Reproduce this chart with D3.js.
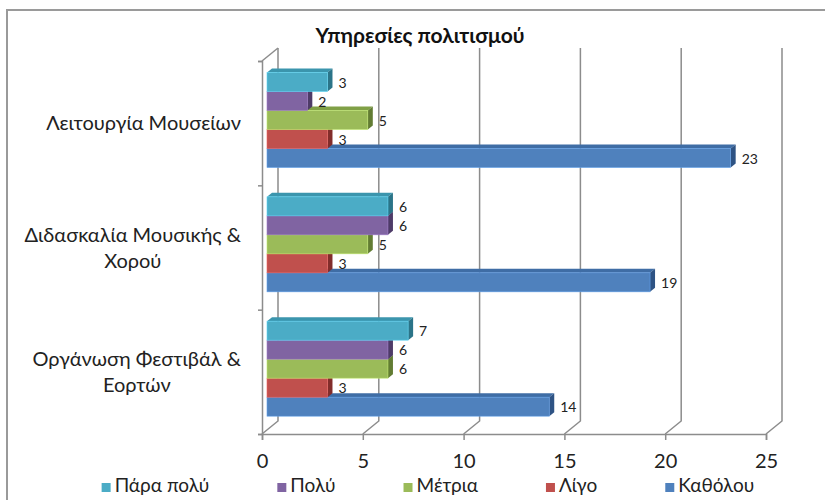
<!DOCTYPE html>
<html>
<head>
<meta charset="utf-8">
<script src="https://cdn.jsdelivr.net/npm/d3@7"></script>
<style>
  body { margin: 0; background: #fff; }
  svg { display: block; font-family: Lato, "Open Sans", sans-serif; }
</style>
</head>
<body>
<div id="chart"></div>
<script>
// data
const title = "Υπηρεσίες πολιτισμού"
const categories = ["Λειτουργία Μουσείων", "Διδασκαλία Μουσικής & Χορού", "Οργάνωση Φεστιβάλ & Εορτών"]
const categoryLines = [["Λειτουργία Μουσείων"], ["Διδασκαλία Μουσικής &", "Χορού"], ["Οργάνωση Φεστιβάλ &", "Εορτών"]]
const seriesNames = ["Πάρα πολύ", "Πολύ", "Μέτρια", "Λίγο", "Καθόλου"]
const paraPoly = [3, 6, 7]
const poly = [2, 6, 6]
const metria = [5, 5, 6]
const ligo = [3, 3, 3]
const katholou = [23, 19, 14]
const xTicks = [0, 5, 10, 15, 20, 25]

const seriesValues = [paraPoly, poly, metria, ligo, katholou]
// front / top / side shades
const colors = [
    { front: "#4bacc6", top: "#3b95ad", side: "#2b7488" },
    { front: "#8064a2", top: "#6a5289", side: "#4e3b68" },
    { front: "#9bbb59", top: "#80a046", side: "#627c33" },
    { front: "#c0504d", top: "#a43f3c", side: "#822d2b" },
    { front: "#4f81bd", top: "#3f6da5", side: "#2e5384" }
]

const width = 825, height = 500

const svg = d3.select("#chart")
    .append("svg")
    .attr("width", width)
    .attr("height", height)

// frame
svg.append("rect")
    .attr("x", 7).attr("y", 10)
    .attr("width", 840).attr("height", 520)
    .attr("fill", "none")
    .attr("stroke", "#9a9a9a")
    .attr("stroke-width", 2)

const floorY = 434, topY = 61
const wall = { dx: 16, dy: -13 }   // back wall offset
const barOff = { dx: 5, dy: -4 }   // bars sit a bit into the depth
const barDepth = { dx: 5, dy: -4 }

const x = d3.scaleLinear().domain([0, 25]).range([262, 766])
const y0 = d3.scaleBand().domain(categories).range([topY, floorY])
const y1 = d3.scaleBand().domain(seriesNames).range([0, 95])

const grid = svg.append("g")
    .attr("fill", "none")
    .attr("stroke", "#8c8c8c")
    .attr("stroke-width", 1.5)

// back wall gridlines + floor diagonals
xTicks.forEach(t => {
    grid.append("path")
        .attr("d", `M${x(t)},${floorY}L${x(t) + wall.dx},${floorY + wall.dy}L${x(t) + wall.dx},${topY + wall.dy}`)
})
// left wall top edge
grid.append("path").attr("d", `M${x(0)},${topY}L${x(0) + wall.dx},${topY + wall.dy}`)

// front axes
svg.append("g")
    .attr("transform", `translate(0,${floorY})`)
    .call(d3.axisBottom(x).tickValues(xTicks).tickSize(6).tickPadding(14))
    .call(g => g.select(".domain").attr("stroke", "#8c8c8c").attr("stroke-width", 1.5))
    .call(g => g.selectAll(".tick line").attr("stroke", "#8c8c8c").attr("stroke-width", 1.5))
    .call(g => g.selectAll(".tick text").attr("font-size", 20).attr("font-family", "Lato, sans-serif").attr("fill", "#222"))

svg.append("g")
    .attr("transform", `translate(${x(0)},0)`)
    .call(d3.axisLeft(d3.scaleLinear().domain([0, 3]).range([topY, floorY])).ticks(3).tickSize(4).tickFormat(""))
    .call(g => g.select(".domain").attr("stroke", "#8c8c8c").attr("stroke-width", 1.5))
    .call(g => g.selectAll(".tick line").attr("stroke", "#8c8c8c").attr("stroke-width", 1.5))

// bars, drawn bottom series first so upper bars cover lower top faces
const bars = svg.append("g")
const groupPad = 11.5
for (let s = seriesNames.length - 1; s >= 0; s--) {
    categories.forEach((c, i) => {
        const v = seriesValues[s][i]
        const xs = x(0) + barOff.dx, xe = x(v) + barOff.dx
        const yt = y0(c) + groupPad + y1(seriesNames[s]), yb = yt + y1.bandwidth()
        const col = colors[s]
        bars.append("path")
            .attr("d", `M${xs},${yt}L${xs + barDepth.dx},${yt + barDepth.dy}L${xe + barDepth.dx},${yt + barDepth.dy}L${xe},${yt}Z`)
            .attr("fill", col.top)
        bars.append("path")
            .attr("d", `M${xe},${yt}L${xe + barDepth.dx},${yt + barDepth.dy}L${xe + barDepth.dx},${yb + barDepth.dy}L${xe},${yb}Z`)
            .attr("fill", col.side)
        bars.append("rect")
            .attr("x", xs).attr("y", yt)
            .attr("width", xe - xs).attr("height", yb - yt)
            .attr("fill", col.front)
            .attr("stroke", d3.color(col.front).brighter(0.6))
            .attr("stroke-width", 0.6)
    })
}

// value labels
const labels = svg.append("g")
    .attr("font-size", 14)
    .attr("fill", "#222")
seriesNames.forEach((sName, s) => {
    categories.forEach((c, i) => {
        const v = seriesValues[s][i]
        labels.append("text")
            .attr("x", x(v) + barOff.dx + 11)
            .attr("y", y0(c) + groupPad + y1(sName) + y1.bandwidth() / 2 + 2)
            .attr("dominant-baseline", "middle")
            .text(v)
    })
})

// category labels: block right-aligned, lines centred inside the block
categories.forEach((c, i) => {
    const lines = categoryLines[i]
    const cy = y0(c) + y0.bandwidth() / 2 + 2
    const lh = 26
    const t = svg.append("text")
        .attr("text-anchor", "middle")
        .attr("font-size", 20)
        .attr("fill", "#222")
    const spans = lines.map((ln, k) => t.append("tspan")
        .attr("y", cy + (k - (lines.length - 1) / 2) * lh)
        .attr("dominant-baseline", "middle")
        .text(ln))
    const maxW = d3.max(spans, sp => sp.node().getComputedTextLength())
    spans.forEach(sp => sp.attr("x", 241 - maxW / 2))
})

// title
svg.append("text")
    .attr("x", 420).attr("y", 43)
    .attr("text-anchor", "middle")
    .attr("font-size", 21)
    .attr("font-weight", "bold")
    .attr("fill", "#111")
    .text(title)

// legend, laid out with a fixed gap between entries
const legend = svg.append("g").attr("font-size", 19).attr("fill", "#222")
const items = seriesNames.map((n, s) => {
    const g = legend.append("g")
    g.append("rect").attr("width", 9).attr("height", 9).attr("y", -4)
        .attr("fill", colors[s].front)
    const txt = g.append("text").attr("x", 13).attr("dominant-baseline", "middle").text(n)
    return { g: g, w: 13 + txt.node().getComputedTextLength() }
})
const gap = 68
const total = d3.sum(items, d => d.w) + gap * (items.length - 1)
let lx = 428 - total / 2
items.forEach(it => {
    it.g.attr("transform", `translate(${lx},487)`)
    lx += it.w + gap
})
</script>
</body>
</html>
